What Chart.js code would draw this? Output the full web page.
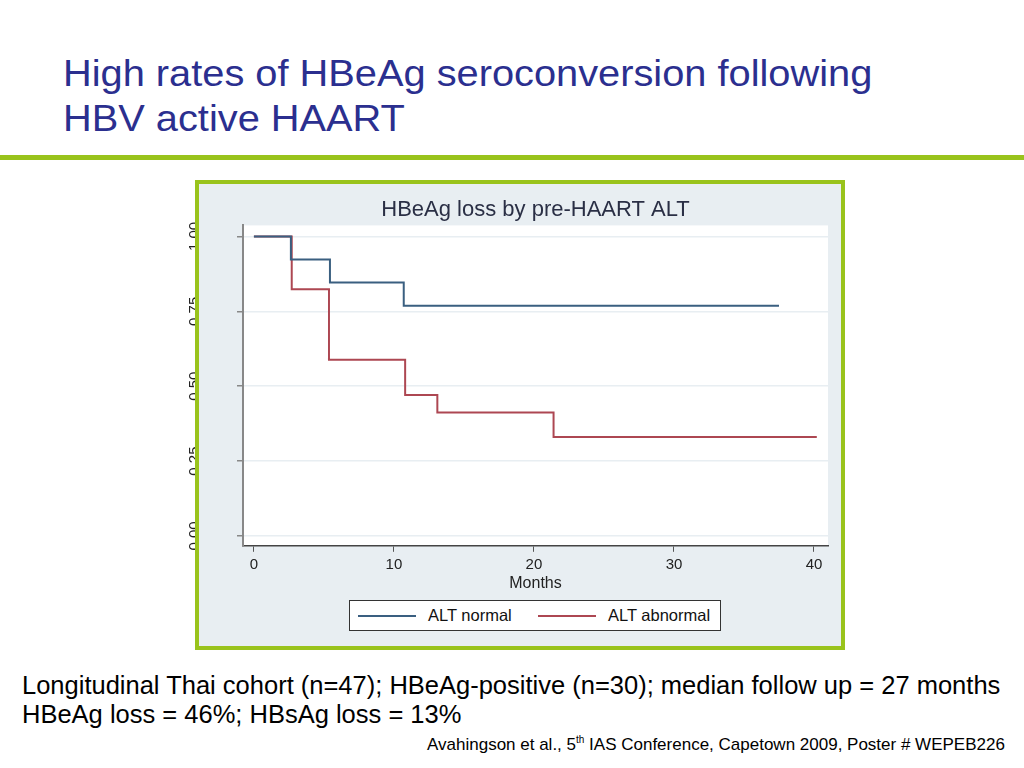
<!DOCTYPE html>
<html>
<head>
<meta charset="utf-8">
<script src="https://cdn.jsdelivr.net/npm/chart.js@4.4.1/dist/chart.umd.min.js"></script>
<style>
  html, body { margin: 0; padding: 0; background: #fff; }
  body { width: 1024px; height: 768px; position: relative; overflow: hidden;
         font-family: "Liberation Sans", Arial, sans-serif; }
  .title { position: absolute; left: 63px; top: 51px; margin: 0; font-weight: normal;
           font-size: 36px; line-height: 45px; color: #2b2f8f; white-space: nowrap;
           transform: scaleX(1.105); transform-origin: 0 0; }
  .rule { position: absolute; left: 0; top: 155px; width: 1024px; height: 5px; background: #99c31c; }
  .box { position: absolute; left: 195px; top: 180px; width: 650px; height: 470px;
         background: #e8eef2; }
  .boxborder { position: absolute; left: 195px; top: 180px; width: 642px; height: 462px;
               border: 4px solid #99c31c; z-index: 3; pointer-events: none; }
  #wrap { position: absolute; left: 176px; top: 184px; width: 665px; height: 462px; z-index: 2; }
  #legend { position: absolute; left: 349px; top: 600px; width: 370px; height: 29px;
            background: #fff; border: 1px solid #333; z-index: 2; font-size: 16.5px; color: #111; }
  #legend .item { position: absolute; top: 0; height: 29px; line-height: 29px; }
  #legend .line { position: absolute; top: 14px; width: 58px; height: 2px; }
  #legend .txt { position: absolute; left: 70px; white-space: nowrap; }
  .note { position: absolute; left: 22px; margin: 0; font-size: 25.5px; color: #000; white-space: nowrap; }
  .cite { position: absolute; left: 427px; top: 734px; font-size: 17px; color: #000; white-space: nowrap; }
  .cite sup { font-size: 10px; }
</style>
</head>
<body>
<h1 class="title">High rates of HBeAg seroconversion following<br>HBV active HAART</h1>
<div class="rule"></div>
<div class="box"></div>
<div id="wrap"><canvas id="km"></canvas></div>
<div id="legend"></div>
<div class="boxborder"></div>
<p class="note" style="top:671px">Longitudinal Thai cohort (n=47); HBeAg-positive (n=30); median follow up = 27 months</p>
<p class="note" style="top:700px">HBeAg loss = 46%; HBsAg loss = 13%</p>
<div class="cite">Avahingson et al., 5<sup>th</sup> IAS Conference, Capetown 2009, Poster # WEPEB226</div>
<script>
// Kaplan-Meier steps (months, proportion still HBeAg+)
const seriesNames = ["ALT normal", "ALT abnormal"];
const monthsNormal = [0, 2.64, 5.43, 10.7, 37.5];
const survNormal = [1.0, 0.923, 0.846, 0.769, 0.769];
const monthsAbnormal = [0, 2.7, 5.36, 10.8, 13.1, 21.4, 40.2];
const survAbnormal = [1.0, 0.824, 0.588, 0.471, 0.412, 0.33, 0.33];
const xTicks = [0, 10, 20, 30, 40];
const yTicks = [0, 0.25, 0.5, 0.75, 1];
const yTickLabels = ["0.00", "0.25", "0.50", "0.75", "1.00"];
const colors = ["#3a5f80", "#ad4752"];

const toPoints = (xs, ys) => xs.map((x, i) => ({ x, y: ys[i] }));
const FONT = '"Liberation Sans", Arial, sans-serif';

// white plot region + rotated y labels (Stata style)
const plotDecor = {
  id: 'plotDecor',
  beforeDraw(chart) {
    const { ctx, chartArea: a } = chart;
    ctx.save();
    ctx.fillStyle = '#fff';
    ctx.fillRect(a.left, a.top, a.right - a.left, a.bottom - a.top);
    ctx.restore();
  },
  afterDraw(chart) {
    const { ctx } = chart;
    const y = chart.scales.y;
    ctx.save();
    ctx.fillStyle = '#222';
    ctx.font = '15px ' + FONT;
    ctx.textAlign = 'center';
    ctx.textBaseline = 'alphabetic';
    yTicks.forEach((v, i) => {
      ctx.save();
      ctx.translate(23, y.getPixelForValue(v));
      ctx.rotate(-Math.PI / 2);
      ctx.fillText(yTickLabels[i], 0, 0);
      ctx.restore();
    });
    ctx.restore();
  }
};

const chart = new Chart(document.getElementById('km'), {
  type: 'line',
  data: {
    datasets: [
      { label: seriesNames[0], data: toPoints(monthsNormal, survNormal), borderColor: colors[0] },
      { label: seriesNames[1], data: toPoints(monthsAbnormal, survAbnormal), borderColor: colors[1] }
    ].map(d => Object.assign(d, { stepped: true, borderWidth: 2, pointRadius: 0, fill: false }))
  },
  options: {
    responsive: true,
    maintainAspectRatio: false,
    animation: false,
    layout: { padding: { left: 0, right: 13, top: 0, bottom: 53 } },
    plugins: {
      legend: { display: false },
      tooltip: { enabled: false },
      title: {
        display: true,
        text: 'HBeAg loss by pre-HAART ALT',
        fullSize: false,
        color: '#2a2f45',
        font: { family: FONT, size: 22, weight: 'normal' },
        padding: { top: 13, bottom: 2 }
      }
    },
    scales: {
      x: {
        type: 'linear',
        min: -0.78,
        max: 41.0,
        afterBuildTicks(s) { s.ticks = xTicks.map(v => ({ value: v })); },
        grid: { drawOnChartArea: false, drawTicks: true, tickLength: 6, tickColor: '#555' },
        border: { color: '#444', width: 1.5 },
        ticks: { color: '#222', padding: 4, maxRotation: 0, font: { family: FONT, size: 15 } },
        title: { display: true, text: 'Months', color: '#222', padding: { top: -4, bottom: 0 },
                 font: { family: FONT, size: 16 } }
      },
      y: {
        min: -0.033,
        max: 1.037,
        afterBuildTicks(s) { s.ticks = yTicks.map(v => ({ value: v })); },
        afterFit(s) { s.width = 67; },
        grid: { color: '#e8eef2', lineWidth: 1.5, drawTicks: true, tickLength: 6, tickColor: '#888' },
        border: { color: '#888', width: 2 },
        ticks: { display: false }
      }
    }
  },
  plugins: [plotDecor]
});

// legend box from the chart's own datasets
const legendEl = document.getElementById('legend');
const offsets = [8, 188];
chart.data.datasets.forEach((d, i) => {
  const item = document.createElement('div');
  item.className = 'item';
  item.style.left = offsets[i] + 'px';
  item.innerHTML = '<span class="line" style="background:' + d.borderColor + '"></span>' +
                   '<span class="txt">' + d.label + '</span>';
  legendEl.appendChild(item);
});
</script>
</body>
</html>
